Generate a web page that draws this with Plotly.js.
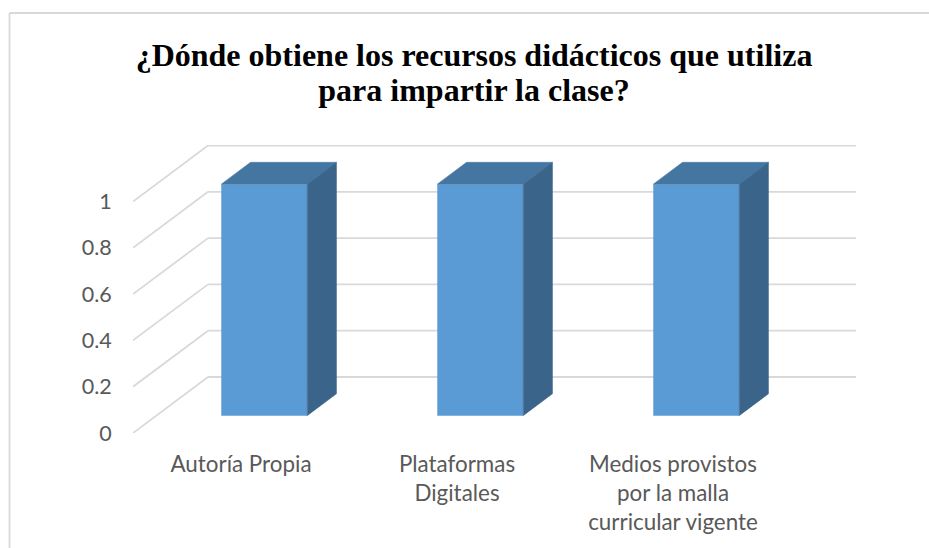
<!DOCTYPE html>
<html>
<head>
<meta charset="utf-8">
<script src="https://cdn.plot.ly/plotly-3.0.1.min.js"></script>
<style>html,body{margin:0;padding:0;background:#fff}#chart{width:929px;height:548px}</style>
</head>
<body>
<div id="chart"></div>
<script>
const titleLines = ["¿Dónde obtiene los recursos didácticos que utiliza", "para impartir la clase?"];
const categories = [["Autoría Propia"], ["Plataformas", "Digitales"], ["Medios provistos", "por la malla", "curricular vigente"]];
const values = [1, 1, 1];
const yTicks = [0, 0.2, 0.4, 0.6, 0.8, 1];

// Oblique projection used by the pseudo-3D look (axis units per unit of depth)
const depthX = 75 / 216, depthY = 56 / 231.5;
const front = 0.31, back = 0.70, halfW = 0.199;
const px = (c, d) => c + d * depthX;
const py = (v, d) => v + d * depthY;
const xIdx = categories.map((_, i) => i);

const frontFace = {
  type: 'bar', x: xIdx.map(c => px(c, front)), y: values, base: xIdx.map(() => py(0, front)),
  width: halfW * 2, marker: {color: '#5b9bd5', line: {width: 0}}, hoverinfo: 'skip', showlegend: false
};
const face = (xs, ys, color) => ({
  type: 'scatter', mode: 'lines', x: xs, y: ys, fill: 'toself', fillcolor: color,
  line: {width: 0.5, color: color}, hoverinfo: 'skip', showlegend: false
});
const tops = values.map((v, i) => face(
  [px(i - halfW, front), px(i + halfW, front), px(i + halfW, back), px(i - halfW, back), px(i - halfW, front)],
  [py(v, front), py(v, front), py(v, back), py(v, back), py(v, front)], '#4575a1'));
const sides = values.map((v, i) => face(
  [px(i + halfW, front), px(i + halfW, back), px(i + halfW, back), px(i + halfW, front), px(i + halfW, front)],
  [py(0, front), py(0, back), py(v, back), py(v, front), py(0, front)], '#3a6489'));

const gridColor = '#d9d9d9';
const xL = -0.5, xR = 2.5;
const shapes = [];
yTicks.forEach(t => {
  shapes.push({type: 'line', layer: 'below', x0: px(xL, 0), y0: py(t, 0), x1: px(xL, 1), y1: py(t, 1), line: {color: gridColor, width: 1.8}});
  shapes.push({type: 'line', layer: 'below', x0: px(xL, 1), y0: py(t, 1), x1: px(xR, 1), y1: py(t, 1), line: {color: gridColor, width: 1.8}});
});
// outer chart frame
const W = 929, H = 548, mL = 133, mR = 73, mT = 145, mB = 115;
const pw = W - mL - mR, ph = H - mT - mB;
const fx = p => (p - mL) / pw, fy = p => (H - mB - p) / ph;
shapes.push({type: 'line', xref: 'paper', yref: 'paper', x0: fx(9.5), x1: fx(9.5), y0: fy(13), y1: fy(548), line: {color: gridColor, width: 1.8}});
shapes.push({type: 'line', xref: 'paper', yref: 'paper', x0: fx(9.5), x1: fx(929), y0: fy(13), y1: fy(13), line: {color: gridColor, width: 1.8}});

const labelFont = 'Lato, sans-serif';
const layout = {
  width: W, height: H, margin: {l: mL, r: mR, t: mT, b: mB, pad: 0},
  paper_bgcolor: '#fff', plot_bgcolor: 'rgba(0,0,0,0)', showlegend: false,
  title: {text: titleLines.map(s => `<span style="font-size:32px">${s}</span>`).join('<br>'),
    font: {family: '"Liberation Serif", serif', size: 27, color: '#000', weight: 700},
    x: 474 / W, xanchor: 'center', y: 1 - 66 / H, yanchor: 'top'},
  xaxis: {range: [xL, xL + pw / 216], showgrid: false, zeroline: false, showline: false,
    tickmode: 'array', tickvals: xIdx,
    ticktext: categories.map(l => l.join('<br>')),
    tickfont: {family: labelFont, size: 22.4, color: '#595959'}, ticks: 'outside', ticklen: 11, tickcolor: 'rgba(0,0,0,0)'},
  yaxis: {range: [0, ph / 231.5], showgrid: false, zeroline: false, showline: false,
    tickmode: 'array', tickvals: yTicks, ticktext: yTicks.map(String),
    tickfont: {family: labelFont, size: 21.5, color: '#595959'}, ticks: 'outside', ticklen: 16, tickcolor: 'rgba(0,0,0,0)'},
  shapes: shapes, barmode: 'overlay'
};
Plotly.newPlot('chart', [frontFace, ...tops, ...sides], layout, {displayModeBar: false, staticPlot: true});
</script>
</body>
</html>
